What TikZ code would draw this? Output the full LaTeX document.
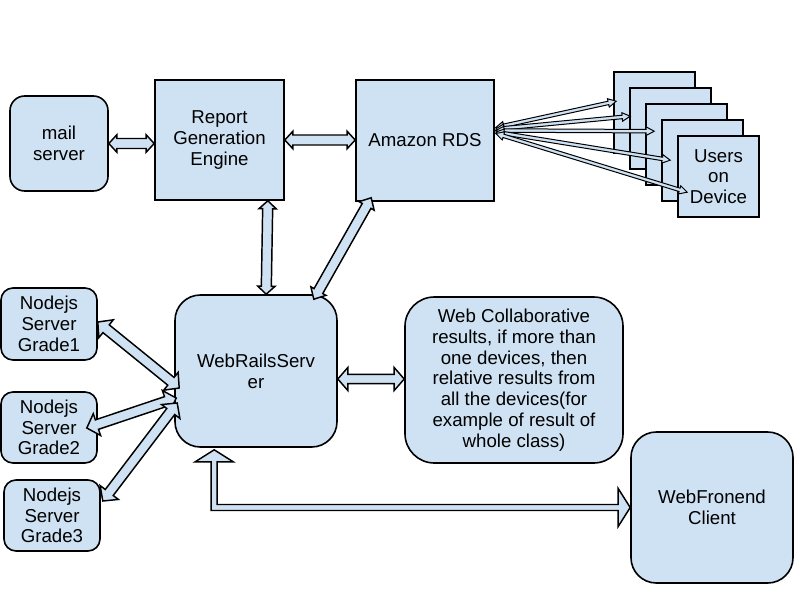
\documentclass[tikz,border=0pt]{standalone}
\usepackage{fontspec}
\setmainfont{Liberation Sans}
\usepackage{tikz}
\usetikzlibrary{calc}
\definecolor{boxblue}{HTML}{CFE2F3}
\tikzset{
  box/.style={draw, line width=1.2pt, fill=boxblue, align=center, inner sep=0pt,
    font=\fontsize{14pt}{15.6pt}\selectfont},
  rbox/.style={box, rounded corners=#1},
  bothway/.style n args={4}{draw, line width=#4, fill=boxblue, to path={
    let \p1=(\tikztostart), \p2=(\tikztotarget),
        \p3=($(\p1)!#3!(\p2)$), \p4=($(\p2)!#3!(\p1)$) in
    (\p1) -- ($(\p3)!#2!270:(\p2)$) -- ($(\p3)!#1!270:(\p2)$)
    -- ($(\p4)!#1!90:(\p1)$) -- ($(\p4)!#2!90:(\p1)$) -- (\p2)
    -- ($(\p4)!#2!270:(\p1)$) -- ($(\p4)!#1!270:(\p1)$)
    -- ($(\p3)!#1!90:(\p2)$) -- ($(\p3)!#2!90:(\p2)$) -- cycle}},
}
\begin{document}
\begin{tikzpicture}[x=0.75pt, y=-0.75pt]
\useasboundingbox (0,0) rectangle (800,600);
% top row
\node[rbox=11pt, minimum width=73.5pt, minimum height=71.25pt] (mail) at (59,143.5) {mail\\server};
\node[box, minimum width=96.75pt, minimum height=90pt] (report) at (219.5,140) {Report\\Generation\\Engine};
\node[box, minimum width=103.5pt, minimum height=90.75pt] (rds) at (425,140.5) {Amazon RDS};
% stack of devices
\foreach \i in {1,...,4}
  \node[box, minimum width=60.75pt, minimum height=60.75pt] (u\i) at ({638.5+16*\i},{96.5+16*\i}) {};
\node[box, minimum width=60.75pt, minimum height=60.75pt] (u5) at (718.5,176.5) {Users\\on\\Device};
% middle
\node[rbox=19pt, minimum width=121.5pt, minimum height=114pt] (rails) at (256,371) {WebRailsServ\\er};
\node[rbox=22pt, minimum width=163.5pt, minimum height=124.5pt] (collab) at (514,380)
  {Web Collaborative\\results, if more than\\one devices, then\\relative results from\\all the devices(for\\example of result of\\whole class)};
\node[rbox=19pt, minimum width=121.5pt, minimum height=113.25pt] (front) at (712,507.5) {WebFronend\\Client};
% nodejs servers
\node[rbox=9pt, minimum width=72pt, minimum height=54pt] (n1) at (49,324) {Nodejs\\Server\\Grade1};
\node[rbox=9pt, minimum width=72pt, minimum height=53.25pt] (n2) at (49,427.5) {Nodejs\\Server\\Grade2};
\node[rbox=9pt, minimum width=72pt, minimum height=53.25pt] (n3) at (52,515.5) {Nodejs\\Server\\Grade3};

% arrows
\draw[bothway={3.75pt}{6.5pt}{6pt}{1.1pt}] (mail.east) to (mail.east -| report.west);
\draw[bothway={3.75pt}{6.5pt}{6pt}{1.1pt}] (report.east) to (report.east -| rds.west);
\draw[bothway={3.75pt}{6.5pt}{6pt}{1.1pt}] ($(report.south east)+(-17,0)$) to ($(rails.north west)+(92,0)$);
\draw[bothway={3.75pt}{6.5pt}{7pt}{1.1pt}] ($(rds.south west)+(16,-4)$) to ($(rails.north east)+(-24,5)$);
\draw[bothway={3.4pt}{8.6pt}{7.5pt}{1.1pt}] ($(rails.east)+(0,8)$) to ($(collab.west)+(0,-1)$);
\draw[bothway={3.75pt}{8.6pt}{8pt}{1.1pt}] ($(n1.east)+(0,-2)$) to ($(rails.west)+(5,17)$);
\draw[bothway={3.75pt}{8.6pt}{8pt}{1.1pt}] ($(n2.east)+(-11,0.5)$) to ($(rails.west)+(2,27)$);
\draw[bothway={3.75pt}{8.6pt}{8pt}{1.1pt}] ($(n3.east)+(2,-14.5)$) to ($(rails.west)+(3,32)$);
\foreach \i/\dx/\dy/\sy in {1/3/30/-13, 2/1/29/-11.5, 3/9/28/-10, 4/9/41/-8.5, 5/10/57/-7}
  \draw[bothway={1.3pt}{3.2pt}{6pt}{0.75pt}] ($(rds.east)+(1,\sy)$) to ($(u\i.north west)+(\dx,\dy)$);
% rails to frontend
\coordinate (railsin) at ($(rails.south west)+(40,2)$);
\coordinate (frontin) at (front.west);
\draw[line width=1.1pt, fill=boxblue] (railsin) -- ++(19,12) -- ++(-16,0) |- ($(frontin)+(-12,-3)$)
  -- ++(0,-16) -- (frontin) -- ++(-12,19) -- ++(0,-16) -| ($(railsin)+(-3,12)$) -- ++(-16,0) -- cycle;
\end{tikzpicture}
\end{document}
